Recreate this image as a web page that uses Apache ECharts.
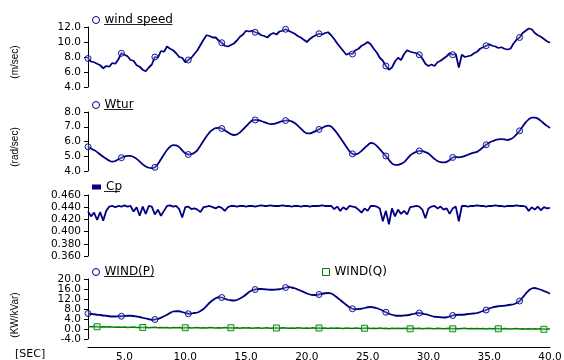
<!DOCTYPE html>
<html>
<head>
<meta charset="utf-8">
<script src="https://cdn.jsdelivr.net/npm/echarts@6/dist/echarts.min.js"></script>
<style>
html, body { margin: 0; padding: 0; background: #fff; }
#chart { width: 564px; height: 360px; }
</style>
</head>
<body>
<div id="chart"></div>
<script>
// Sampling grid: one value every 0.25 s from 2 s to 40 s
const T_START = 2;
const T_STEP = 0.25;

// Wind speed (m/sec), one row per second (4 samples)
const WIND_SPEED = [
  7.8, 7.4, 7.3, 7.1,
  6.9, 6.5, 6.8, 6.7,
  7.2, 7.1, 7.7, 8.5,
  8.3, 8.1, 7.6, 7.5,
  6.9, 6.7, 6.3, 6.1,
  6.6, 7.0, 8.0, 7.9,
  8.8, 8.7, 9.4, 9.1,
  8.9, 8.5, 8.0, 7.9,
  7.3, 7.6, 7.9, 8.4,
  8.9, 9.6, 10.3, 10.9,
  10.8, 10.6, 10.6, 10.2,
  9.9, 9.5, 9.4, 9.6,
  9.8, 10.2, 10.7, 11.0,
  11.5, 11.4, 11.5, 11.3,
  11.2, 10.9, 10.8, 10.6,
  11.0, 11.2, 11.0, 11.4,
  11.5, 11.7, 11.5, 11.3,
  11.1, 10.8, 10.6, 10.3,
  10.0, 10.4, 10.7, 10.9,
  11.1, 11.0, 11.2, 11.3,
  10.9, 10.4, 9.8, 9.3,
  8.8, 8.3, 8.5, 8.4,
  8.9, 9.1, 9.5, 9.7,
  10.0, 9.7, 9.1, 8.6,
  7.9, 7.5, 6.8, 6.3,
  6.6, 7.4, 7.9, 7.6,
  8.4, 8.9, 8.7, 8.6,
  8.5, 8.3, 7.8, 7.1,
  6.8, 7.0, 6.8, 7.3,
  7.5, 7.8, 8.1, 8.5,
  8.3, 8.4, 6.6, 8.3,
  8.0, 8.1, 8.2, 8.5,
  8.7, 9.1, 9.3, 9.5,
  9.7, 9.5, 9.4, 9.2,
  9.3, 9.1, 9.0, 9.1,
  9.8, 10.3, 10.6, 11.2,
  11.5, 11.8, 11.7, 11.2,
  10.9, 10.7, 10.4, 10.1,
  9.9
];

// Turbine speed (rad/sec)
const WTUR = [
  5.64, 5.53, 5.42, 5.28, 5.12, 4.97, 4.83, 4.70, 4.63, 4.68, 4.80, 4.90, 4.98, 5.03, 5.02, 4.95,
  4.82, 4.64, 4.45, 4.31, 4.22, 4.19, 4.25, 4.48, 4.80, 5.12, 5.42, 5.64, 5.75, 5.73, 5.62, 5.40,
  5.20, 5.12, 5.14, 5.24, 5.42, 5.72, 6.05, 6.36, 6.62, 6.80, 6.90, 6.92, 6.88, 6.76, 6.62, 6.50,
  6.44, 6.48, 6.62, 6.82, 7.02, 7.24, 7.42, 7.46, 7.44, 7.39, 7.32, 7.24, 7.18, 7.19, 7.25, 7.32,
  7.38, 7.42, 7.43, 7.36, 7.25, 7.08, 6.88, 6.68, 6.55, 6.55, 6.62, 6.72, 6.82, 6.92, 7.02, 7.08,
  7.02, 6.80, 6.55, 6.25, 5.95, 5.64, 5.35, 5.16, 5.12, 5.20, 5.36, 5.56, 5.75, 5.90, 5.86, 5.70,
  5.48, 5.25, 5.02, 4.76, 4.52, 4.42, 4.42, 4.48, 4.60, 4.82, 5.05, 5.20, 5.30, 5.36, 5.35, 5.28,
  5.18, 5.00, 4.82, 4.68, 4.60, 4.58, 4.62, 4.74, 4.92, 4.96, 4.92, 4.95, 5.02, 5.10, 5.18, 5.24,
  5.30, 5.44, 5.62, 5.78, 5.92, 6.02, 6.10, 6.14, 6.16, 6.14, 6.10, 6.16, 6.28, 6.48, 6.72, 7.02,
  7.30, 7.50, 7.62, 7.62, 7.55, 7.40, 7.22, 7.06,
  6.92
];

// Power coefficient Cp
const CP = [
  0.433, 0.425, 0.431, 0.419, 0.432, 0.418, 0.434, 0.441, 0.442, 0.440, 0.442, 0.441, 0.443, 0.441, 0.442, 0.433,
  0.440, 0.426, 0.441, 0.429, 0.442, 0.441, 0.428, 0.436, 0.426, 0.434, 0.442, 0.443, 0.441, 0.442, 0.437, 0.423,
  0.440, 0.441, 0.437, 0.438, 0.436, 0.432, 0.440, 0.441, 0.442, 0.440, 0.438, 0.441, 0.439, 0.434, 0.440, 0.442,
  0.442, 0.441, 0.442, 0.442, 0.441, 0.442, 0.442, 0.441, 0.442, 0.443, 0.442, 0.442, 0.443, 0.442, 0.442, 0.442,
  0.443, 0.442, 0.442, 0.441, 0.442, 0.442, 0.441, 0.442, 0.442, 0.441, 0.442, 0.442, 0.442, 0.443, 0.442, 0.442,
  0.442, 0.437, 0.441, 0.434, 0.440, 0.436, 0.442, 0.441, 0.440, 0.436, 0.431, 0.438, 0.434, 0.442, 0.442, 0.441,
  0.438, 0.417, 0.434, 0.412, 0.438, 0.425, 0.436, 0.429, 0.434, 0.428, 0.440, 0.441, 0.442, 0.441, 0.436, 0.422,
  0.438, 0.441, 0.442, 0.438, 0.441, 0.436, 0.438, 0.429, 0.438, 0.441, 0.417, 0.442, 0.442, 0.441, 0.442, 0.442,
  0.443, 0.442, 0.442, 0.441, 0.442, 0.442, 0.443, 0.442, 0.442, 0.441, 0.442, 0.442, 0.442, 0.443, 0.442, 0.442,
  0.441, 0.434, 0.440, 0.436, 0.441, 0.435, 0.440, 0.438,
  0.439
];

// Active power WIND(P)
const WIND_P = [
  6.2, 6.0, 5.9, 5.7,   5.6, 5.4, 5.3, 5.1,   5.0, 5.0, 5.1, 5.1,   5.2, 5.3, 5.3, 5.2,
  5.0, 4.8, 4.5, 4.2,   3.9, 3.7, 3.8, 4.0,   4.5, 5.1, 5.7, 6.4,   7.0, 7.1, 7.1, 6.8,
  6.4, 6.1, 6.2, 6.4,   6.6, 7.2, 8.0, 9.2,   10.5, 11.5, 12.3, 12.7, 12.6, 12.1, 11.7, 11.5,
  11.4, 11.6, 12.2, 12.9, 13.8, 14.8, 15.5, 15.8, 16.0, 16.0, 15.9, 15.8, 15.7, 15.7, 15.8, 15.9,
  16.2, 16.6, 16.8, 16.6, 16.3, 15.8, 15.3, 14.8, 14.2, 13.8, 13.6, 13.6, 13.8, 14.1, 14.3, 14.4,
  14.2, 13.5, 12.6, 11.6, 10.6, 9.6, 8.7, 8.1,  7.9, 8.0, 8.1, 8.4,   8.7, 8.8, 8.6, 8.3,
  7.9, 7.3, 6.7, 6.1,   5.7, 5.4, 5.3, 5.3,   5.4, 5.5, 5.7, 6.0,   6.3, 6.4, 6.2, 5.9,
  5.6, 5.2, 4.9, 4.8,   4.7, 4.6, 4.7, 5.0,   5.4, 5.6, 5.7, 5.7,   5.8, 6.0, 6.1, 6.2,
  6.4, 6.8, 7.2, 7.6,   8.2, 8.6, 8.9, 9.1,   9.2, 9.3, 9.5, 9.7,   9.9, 10.4, 11.2, 12.6,
  14.1, 15.4, 16.2, 16.4, 16.1, 15.7, 15.2, 14.7,
  14.1
];

// Reactive power WIND(Q)
const WIND_Q = [
  1.0, 0.9, 1.0, 0.9,  0.8, 0.9, 0.8, 0.9,  0.8, 0.7, 0.8, 0.7,  0.8, 0.6, 0.7, 0.8,
  0.6, 0.7, 0.6, 0.7,  0.5, 0.6, 0.7, 0.5,  0.6, 0.5, 0.6, 0.4,  0.6, 0.5, 0.6, 0.4,
  0.5, 0.6, 0.4, 0.5,  0.6, 0.4, 0.5, 0.4,  0.6, 0.5, 0.4, 0.5,  0.4, 0.6, 0.4, 0.5,
  0.4, 0.5, 0.3, 0.5,  0.4, 0.5, 0.3, 0.4,  0.5, 0.3, 0.4, 0.5,  0.3, 0.4, 0.4, 0.3,
  0.5, 0.4, 0.3, 0.4,  0.3, 0.5, 0.4, 0.3,  0.4, 0.3, 0.5, 0.3,  0.4, 0.3, 0.4, 0.2,
  0.4, 0.3, 0.4, 0.3,  0.2, 0.4, 0.3, 0.2,  0.4, 0.3, 0.2, 0.3,  0.4, 0.2, 0.3, 0.2,
  0.4, 0.2, 0.3, 0.1,  0.3, 0.2, 0.3, 0.2,  0.3, 0.2, 0.1, 0.3,  0.2, 0.3, 0.1, 0.2,
  0.3, 0.2, 0.1, 0.3,  0.2, 0.1, 0.2, 0.3,  0.1, 0.2, 0.1, 0.2,  0.3, 0.1, 0.2, 0.1,
  0.2, 0.1, 0.2, 0.0,  0.2, 0.1, 0.2, 0.1,  0.0, 0.2, 0.1, 0.0,  0.1, 0.2, 0.0, 0.1,
  0.0, 0.1, 0.0, 0.1,  0.0, 0.1, -0.1, 0.0,
  0.0
];

// Axis tick labels
const X_TICKS = [5, 10, 15, 20, 25, 30, 35, 40];
const Y_TICKS_SPEED = [4, 6, 8, 10, 12];
const Y_TICKS_WTUR = [4, 5, 6, 7, 8];
const Y_TICKS_CP = [0.36, 0.38, 0.40, 0.42, 0.44, 0.46];
const Y_TICKS_POWER = [-4, 0, 4, 8, 12, 16, 20];

const TIME = WIND_SPEED.map((_, i) => T_START + i * T_STEP);
const pairs = vals => vals.map((v, i) => [TIME[i], v]);

const NAVY = '#000080';
const GREEN = '#008000';
const FONT = 'DejaVu Sans';
const NAME_FONT = 'Liberation Sans';

// which samples carry a marker
const circleIdx = new Set();
for (let k = 0; k < 14; k++) circleIdx.add(Math.round(k * 10.9));
const squareIdx = new Set();
for (let k = 0; k < 11; k++) squareIdx.add(3 + Math.round(k * 14.65));

// fixed panel rectangles (no automatic shrinking to fit labels)
const PLOT_LEFT = 88, PLOT_RIGHT = 14;
const panel = (top, height) => ({
  left: PLOT_LEFT, right: PLOT_RIGHT, top: top, height: height,
  containLabel: false, outerBoundsMode: 'none'
});
const grids = [panel(27, 60), panel(112, 59), panel(195, 61), panel(279, 60)];

const axisText = { color: '#000', fontFamily: FONT, fontSize: 10.5 };

// y axis; labelTicks may be a subset of ticks, lineVisible=false for a label-only overlay
function yAxis(gi, ticks, labelTicks, interval, digits, lineVisible) {
  return {
    gridIndex: gi, type: 'value', position: 'left', offset: 0,
    min: ticks[0], max: ticks[ticks.length - 1], interval: interval,
    axisLine: { show: lineVisible, lineStyle: { color: '#000', width: 1 } },
    axisTick: { show: lineVisible, length: 4, customValues: ticks, lineStyle: { color: '#000' } },
    splitLine: { show: false },
    axisLabel: Object.assign({
      margin: 7, customValues: labelTicks, hideOverlap: false,
      showMinLabel: true, showMaxLabel: true,
      formatter: v => v.toFixed(digits)
    }, axisText)
  };
}

function xAxis(gi, visible) {
  return {
    gridIndex: gi, type: 'value', min: T_START, max: 40, show: visible,
    offset: visible ? 8 : 0,
    axisLine: { show: true, onZero: false, lineStyle: { color: '#000', width: 1 } },
    axisTick: { show: false },
    splitLine: { show: false },
    axisLabel: Object.assign({
      margin: 5, customValues: X_TICKS, hideOverlap: false,
      formatter: v => v.toFixed(1), showMinLabel: true, showMaxLabel: true
    }, axisText)
  };
}

const circleMark = {
  symbol: 'circle',
  symbolSize: (v, p) => circleIdx.has(p.dataIndex) ? 6 : 0,
  itemStyle: { color: 'rgba(190,200,255,0.3)', borderColor: NAVY, borderWidth: 0.9 }
};

function lineSeries(name, gi, values, color, extra) {
  return Object.assign({
    name: name, type: 'line', xAxisIndex: gi, yAxisIndex: gi,
    data: pairs(values), showSymbol: true, showAllSymbol: true,
    lineStyle: { color: color, width: 1.8 },
    emphasis: { disabled: true }, animation: false
  }, extra);
}

const series = [
  lineSeries('wind speed', 0, WIND_SPEED, NAVY, circleMark),
  lineSeries('Wtur', 1, WTUR, NAVY, Object.assign({ smooth: 0.3 }, circleMark)),
  lineSeries('Cp', 2, CP, NAVY, { symbol: 'none', itemStyle: { color: NAVY } }),
  lineSeries('WIND(P)', 3, WIND_P, NAVY, Object.assign({ smooth: 0.3 }, circleMark)),
  lineSeries('WIND(Q)', 3, WIND_Q, GREEN, {
    symbol: 'rect',
    symbolSize: (v, p) => squareIdx.has(p.dataIndex) ? 6 : 0,
    itemStyle: { color: 'rgba(160,220,160,0.35)', borderColor: GREEN, borderWidth: 0.9 },
    lineStyle: { color: GREEN, width: 1.4 }
  })
];

const legendText = { color: '#000', fontFamily: FONT, fontSize: 12 };
function legend(name, left, centerY, icon, color, w, h, filled) {
  return {
    data: [name], left: left, top: centerY - 5, padding: 0,
    icon: icon, itemWidth: w, itemHeight: h,
    selectedMode: false, textStyle: legendText,
    itemStyle: filled
      ? { color: color, borderWidth: 0 }
      : { color: '#fff', borderColor: color, borderWidth: 1 }
  };
}

const legends = [
  legend('wind speed', 92, 19, 'circle', NAVY, 7, 7, false),
  legend('Wtur', 92, 104, 'circle', NAVY, 7, 7, false),
  legend('Cp', 92, 186, 'rect', NAVY, 9, 5, true),
  legend('WIND(P)', 92, 271, 'circle', NAVY, 7, 7, false),
  legend('WIND(Q)', 322, 271, 'rect', GREEN, 7, 7, false)
];

// underline under the first entry of each panel legend
const measure = document.createElement('canvas').getContext('2d');
measure.font = '12px "' + FONT + '"';
const underlined = [['wind speed', 19], ['Wtur', 104], ['Cp', 186], ['WIND(P)', 271]];
const underlines = underlined.map(([txt, cy]) => {
  const y = Math.round(cy + 5) + 0.5;
  return {
    type: 'line', silent: true,
    shape: { x1: 104, y1: y, x2: 104 + measure.measureText(txt).width, y2: y },
    style: { stroke: '#222', lineWidth: 1 }
  };
});

const axisNames = [['(m/sec)', 62], ['(rad/sec)', 147], ['(KW/kVar)', 315]].map(([txt, cy]) => ({
  type: 'text', x: 15, y: cy, rotation: Math.PI / 2, silent: true,
  style: { text: txt, fill: '#000', font: '10px "' + NAME_FONT + '"', align: 'center', verticalAlign: 'middle' }
}));

// power panel labels are split over two stacked axes so none get dropped
const powerEven = Y_TICKS_POWER.filter((_, i) => i % 2 === 0);
const powerOdd = Y_TICKS_POWER.filter((_, i) => i % 2 === 1);

const chart = echarts.init(document.getElementById('chart'), null, { renderer: 'canvas', width: 564, height: 360 });
chart.setOption({
  animation: false,
  backgroundColor: '#fff',
  grid: grids,
  xAxis: [xAxis(0, false), xAxis(1, false), xAxis(2, false), xAxis(3, true)],
  yAxis: [
    yAxis(0, Y_TICKS_SPEED, Y_TICKS_SPEED, 2, 1, true),
    yAxis(1, Y_TICKS_WTUR, Y_TICKS_WTUR, 1, 1, true),
    yAxis(2, Y_TICKS_CP, Y_TICKS_CP, 0.02, 3, true),
    yAxis(3, Y_TICKS_POWER, powerEven, 4, 1, true),
    yAxis(3, Y_TICKS_POWER, powerOdd, 4, 1, false)
  ],
  legend: legends,
  series: series,
  graphic: underlines.concat(axisNames).concat([{
    type: 'text', x: 15, y: 354, silent: true,
    style: { text: '[SEC]', fill: '#000', font: '11px "' + FONT + '"', align: 'left', verticalAlign: 'middle' }
  }])
});
</script>
</body>
</html>
